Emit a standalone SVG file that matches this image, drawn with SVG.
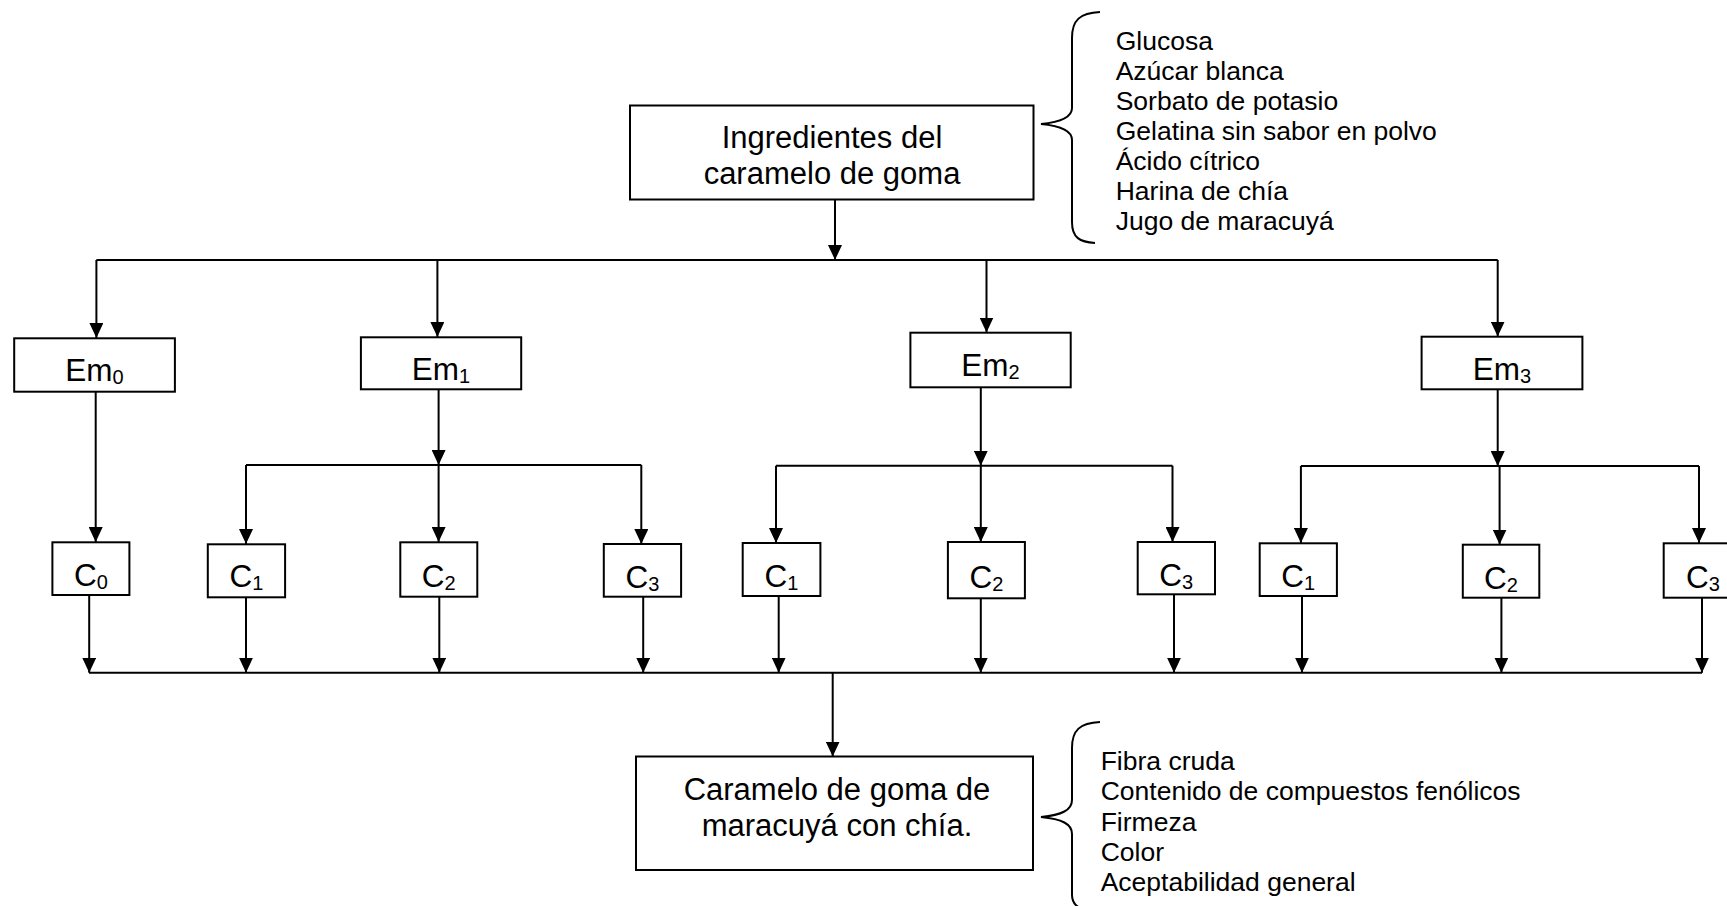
<svg xmlns="http://www.w3.org/2000/svg" width="1727" height="906" viewBox="0 0 1727 906">
<defs>
<marker id="ah" markerUnits="userSpaceOnUse" markerWidth="15" markerHeight="14" refX="15" refY="7" orient="auto">
<path d="M0,0 L15,7 L0,14 z" fill="#000"/>
</marker>
<style>
.box{fill:#fff;stroke:#000;stroke-width:2}
.ln{fill:none;stroke:#000;stroke-width:2}
.ar{fill:none;stroke:#000;stroke-width:2;marker-end:url(#ah)}
.big{font-family:"Liberation Sans",Arial,sans-serif;font-size:31px;fill:#000;text-anchor:middle}
.lbl{font-family:"Liberation Sans",Arial,sans-serif;font-size:31.5px;fill:#000;text-anchor:middle}
.sub{font-size:20px}
.lst{font-family:"Liberation Sans",Arial,sans-serif;font-size:26.5px;fill:#000}
.br{fill:none;stroke:#000;stroke-width:2}
</style>
</defs>
<rect width="1727" height="906" fill="#fff"/>

<g id="connectors">
<line class="ar" x1="835" y1="200" x2="835" y2="260"/>
<line class="ln" x1="96.4" y1="260" x2="1497.7" y2="260"/>
<line class="ar" x1="96.4" y1="260" x2="96.4" y2="338"/>
<line class="ar" x1="437.4" y1="260" x2="437.4" y2="337"/>
<line class="ar" x1="986.5" y1="260" x2="986.5" y2="332.5"/>
<line class="ar" x1="1497.7" y1="260" x2="1497.7" y2="336.5"/>

<line class="ar" x1="95.7" y1="392" x2="95.7" y2="542"/>

<line class="ar" x1="438.6" y1="389.5" x2="438.6" y2="465"/>
<line class="ln" x1="246" y1="465" x2="641.3" y2="465"/>
<line class="ar" x1="246" y1="465" x2="246" y2="544"/>
<line class="ar" x1="438.6" y1="465" x2="438.6" y2="542"/>
<line class="ar" x1="641.3" y1="465" x2="641.3" y2="544"/>

<line class="ar" x1="980.8" y1="387.5" x2="980.8" y2="465.7"/>
<line class="ln" x1="776" y1="465.7" x2="1172.5" y2="465.7"/>
<line class="ar" x1="776" y1="465.7" x2="776" y2="543"/>
<line class="ar" x1="980.8" y1="465.7" x2="980.8" y2="542"/>
<line class="ar" x1="1172.5" y1="465.7" x2="1172.5" y2="542"/>

<line class="ar" x1="1497.7" y1="389.5" x2="1497.7" y2="466"/>
<line class="ln" x1="1300.9" y1="466" x2="1699" y2="466"/>
<line class="ar" x1="1300.9" y1="466" x2="1300.9" y2="543"/>
<line class="ar" x1="1499.6" y1="466" x2="1499.6" y2="544.5"/>
<line class="ar" x1="1699" y1="466" x2="1699" y2="543"/>

<line class="ar" x1="89.2" y1="595" x2="89.2" y2="672.7"/>
<line class="ar" x1="246" y1="597.5" x2="246" y2="672.7"/>
<line class="ar" x1="439.3" y1="597" x2="439.3" y2="672.7"/>
<line class="ar" x1="643.2" y1="597" x2="643.2" y2="672.7"/>
<line class="ar" x1="778.7" y1="596" x2="778.7" y2="672.7"/>
<line class="ar" x1="980.8" y1="598.5" x2="980.8" y2="672.7"/>
<line class="ar" x1="1174" y1="594.5" x2="1174" y2="672.7"/>
<line class="ar" x1="1302" y1="596" x2="1302" y2="672.7"/>
<line class="ar" x1="1501.4" y1="598" x2="1501.4" y2="672.7"/>
<line class="ar" x1="1702" y1="598" x2="1702" y2="672.7"/>
<line class="ln" x1="89" y1="672.7" x2="1702" y2="672.7"/>

<line class="ar" x1="832.7" y1="672.7" x2="832.7" y2="756.5"/>
</g>

<g id="ingredientes">
<rect class="box" x="630" y="105.5" width="403.5" height="94"/>
<text class="big" x="832" y="147.5">Ingredientes del</text>
<text class="big" x="832" y="183.5">caramelo de goma</text>
</g>

<g id="lista-ingredientes">
<path class="br" d="M1100,12 C1080,13 1072,20 1072,38 L1072,108 C1072,117 1062,122 1041,124 C1062,126 1072,131 1072,140 L1072,222 C1072,238 1080,242 1095,243"/>
<text class="lst" x="1115.7" y="50.2">Glucosa</text>
<text class="lst" x="1115.7" y="80.2">Azúcar blanca</text>
<text class="lst" x="1115.7" y="110.2">Sorbato de potasio</text>
<text class="lst" x="1115.7" y="140.2">Gelatina sin sabor en polvo</text>
<text class="lst" x="1115.7" y="170.2">Ácido cítrico</text>
<text class="lst" x="1115.7" y="200.2">Harina de chía</text>
<text class="lst" x="1115.7" y="230.2">Jugo de maracuyá</text>
</g>

<g id="em0"><rect class="box" x="14.2" y="338.3" width="160.7" height="53.4"/><text class="lbl" x="94.5" y="381.3">Em<tspan class="sub" dy="3">0</tspan></text></g>
<g id="em1"><rect class="box" x="360.9" y="337.3" width="160.3" height="52"/><text class="lbl" x="441" y="379.5">Em<tspan class="sub" dy="3">1</tspan></text></g>
<g id="em2"><rect class="box" x="910.4" y="332.7" width="160.3" height="54.6"/><text class="lbl" x="990.5" y="376">Em<tspan class="sub" dy="3">2</tspan></text></g>
<g id="em3"><rect class="box" x="1421.6" y="336.7" width="160.8" height="52.6"/><text class="lbl" x="1502" y="379.5">Em<tspan class="sub" dy="3">3</tspan></text></g>

<g id="c0"><rect class="box" x="52.4" y="542.3" width="77" height="52.7"/><text class="lbl" x="91" y="586.3">C<tspan class="sub" dy="3">0</tspan></text></g>
<g id="c1-em1"><rect class="box" x="207.8" y="544.3" width="77.3" height="53"/><text class="lbl" x="246.5" y="587">C<tspan class="sub" dy="3">1</tspan></text></g>
<g id="c2-em1"><rect class="box" x="400.3" y="542.3" width="77" height="54.4"/><text class="lbl" x="438.8" y="587">C<tspan class="sub" dy="3">2</tspan></text></g>
<g id="c3-em1"><rect class="box" x="603.8" y="544" width="77.3" height="52.7"/><text class="lbl" x="642.5" y="587.5">C<tspan class="sub" dy="3">3</tspan></text></g>
<g id="c1-em2"><rect class="box" x="742.7" y="543" width="77.7" height="53"/><text class="lbl" x="781.5" y="586.5">C<tspan class="sub" dy="3">1</tspan></text></g>
<g id="c2-em2"><rect class="box" x="947.9" y="542" width="77" height="56.3"/><text class="lbl" x="986.4" y="587.5">C<tspan class="sub" dy="3">2</tspan></text></g>
<g id="c3-em2"><rect class="box" x="1137.7" y="542" width="77.3" height="52.3"/><text class="lbl" x="1176.3" y="585.5">C<tspan class="sub" dy="3">3</tspan></text></g>
<g id="c1-em3"><rect class="box" x="1259.7" y="543.3" width="77.2" height="52.7"/><text class="lbl" x="1298.3" y="587">C<tspan class="sub" dy="3">1</tspan></text></g>
<g id="c2-em3"><rect class="box" x="1462.8" y="544.7" width="76.5" height="53"/><text class="lbl" x="1501" y="588.5">C<tspan class="sub" dy="3">2</tspan></text></g>
<g id="c3-em3"><rect class="box" x="1663.7" y="543.3" width="77" height="54.4"/><text class="lbl" x="1703" y="587.5">C<tspan class="sub" dy="3">3</tspan></text></g>

<g id="producto">
<rect class="box" x="636" y="756.5" width="397" height="113.5"/>
<text class="big" x="837" y="799.5">Caramelo de goma de</text>
<text class="big" x="837" y="835.5">maracuyá con chía.</text>
</g>

<g id="lista-analisis">
<path class="br" d="M1100,722 C1080,723 1072,730 1072,748 L1072,800 C1072,810 1062,815 1041,817 C1062,819 1072,824 1072,834 L1072,895 C1072,903 1076,906 1080,908"/>
<text class="lst" x="1100.7" y="770">Fibra cruda</text>
<text class="lst" x="1100.7" y="800.3">Contenido de compuestos fenólicos</text>
<text class="lst" x="1100.7" y="830.6">Firmeza</text>
<text class="lst" x="1100.7" y="860.9">Color</text>
<text class="lst" x="1100.7" y="891.2">Aceptabilidad general</text>
</g>
</svg>
